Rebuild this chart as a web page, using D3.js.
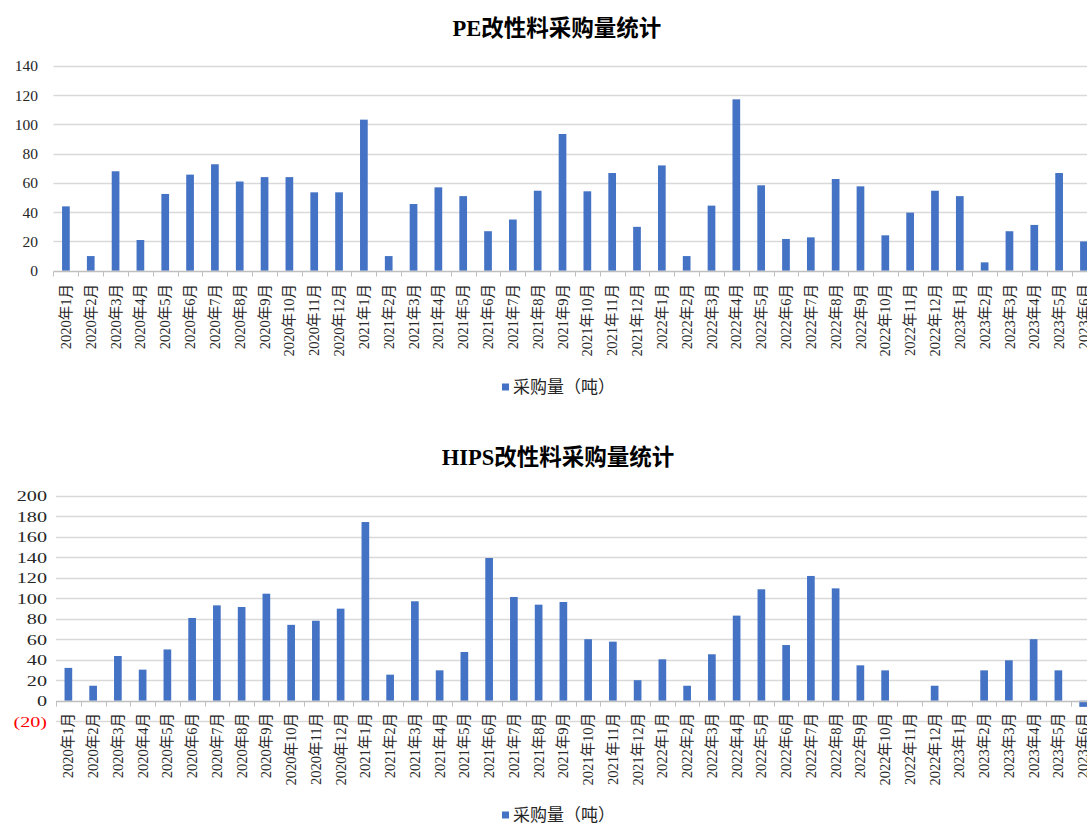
<!DOCTYPE html>
<html>
<head>
<meta charset="utf-8">
<script src="https://cdn.jsdelivr.net/npm/d3@7"></script>
<style>
  body { margin: 0; background: #fff; }
  text { font-family: "Liberation Serif", "Noto Sans CJK SC", serif; }
</style>
</head>
<body>
<script>
const w = 1087;
const h = 824;

// Data

const months = [
  "2020年1月", "2020年2月", "2020年3月", "2020年4月", "2020年5月", "2020年6月",
  "2020年7月", "2020年8月", "2020年9月", "2020年10月", "2020年11月", "2020年12月",
  "2021年1月", "2021年2月", "2021年3月", "2021年4月", "2021年5月", "2021年6月",
  "2021年7月", "2021年8月", "2021年9月", "2021年10月", "2021年11月", "2021年12月",
  "2022年1月", "2022年2月", "2022年3月", "2022年4月", "2022年5月", "2022年6月",
  "2022年7月", "2022年8月", "2022年9月", "2022年10月", "2022年11月", "2022年12月",
  "2023年1月", "2023年2月", "2023年3月", "2023年4月", "2023年5月", "2023年6月"
];

const peValues = [
  44, 10, 68, 21, 52.5, 65.7, 72.8, 61, 64, 64, 53.6, 53.6,
  103.3, 10, 45.6, 57, 51, 27, 35, 54.7, 93.5, 54.3, 66.8, 30,
  72, 10, 44.5, 117.2, 58.4, 21.7, 22.8, 62.7, 57.7, 24.2, 39.7, 54.7,
  51, 5.7, 27, 31.3, 66.8, 20
];

const hipsValues = [
  32, 14.6, 43.6, 30.3, 50, 80.7, 93, 91.4, 104.4, 74, 78, 89.8,
  174.3, 25.4, 97, 29.6, 47.5, 139.2, 101.2, 93.7, 96.3, 60, 57.6, 20,
  40.4, 14.6, 45.3, 83, 108.7, 54.3, 121.7, 109.6, 34.5, 29.6, 0, 14.6,
  0, 29.6, 39.4, 60, 29.6, -6
];

const peTicks = [0, 20, 40, 60, 80, 100, 120, 140];
const hipsTicks = [-20, 0, 20, 40, 60, 80, 100, 120, 140, 160, 180, 200];

const barColor = "#4472c4";
const gridColor = "#d9d9d9";
const axisColor = "#bfbfbf";

// SVG

const svg = d3.select("body").append("svg").attr("width", w).attr("height", h);

function drawChart(opt) {
  const g = svg.append("g");

  const x = d3
    .scaleBand()
    .domain(months)
    .range([opt.left, opt.left + months.length * opt.step])
    .paddingInner(0.69)
    .paddingOuter(0.345);

  const y = d3.scaleLinear().domain(opt.domain).range([opt.bottom, opt.top]);

  // Title

  g.append("text")
    .attr("x", opt.titleX)
    .attr("y", opt.titleY)
    .attr("text-anchor", "middle")
    .attr("font-size", 22.5)
    .attr("font-weight", "bold")
    .attr("fill", "#000")
    .text(opt.title);

  // Grid

  g.append("g")
    .selectAll("line")
    .data(opt.ticks.filter((d) => d !== 0))
    .join("line")
    .attr("x1", opt.left)
    .attr("x2", w)
    .attr("y1", (d) => Math.round(y(d)) + 0.5)
    .attr("y2", (d) => Math.round(y(d)) + 0.5)
    .attr("stroke", gridColor)
    .attr("stroke-width", 1.3);

  // Y labels

  g.append("g")
    .selectAll("text")
    .data(opt.ticks)
    .join("text")
    .attr("transform", (d) => `translate(${opt.labelX},${y(d)}) scale(${opt.labelScale},1)`)
    .attr("dy", "0.35em")
    .attr("text-anchor", "end")
    .attr("font-size", 15.5)
    .attr("fill", (d) => (d < 0 ? "#ff0000" : "#262626"))
    .text((d) => (d < 0 ? "(" + Math.abs(d) + ")" : d));

  // Bars

  g.append("g")
    .selectAll("rect")
    .data(opt.values)
    .join("rect")
    .attr("x", (d, i) => x(months[i]))
    .attr("width", x.bandwidth())
    .attr("y", (d) => y(Math.max(0, d)))
    .attr("height", (d) => Math.abs(y(d) - y(0)))
    .attr("fill", barColor);

  // Axis at zero

  const y0 = Math.round(y(0)) + 0.5;
  g.append("line")
    .attr("x1", opt.left)
    .attr("x2", w)
    .attr("y1", y0)
    .attr("y2", y0)
    .attr("stroke", axisColor)
    .attr("stroke-width", 1.3);

  g.append("g")
    .selectAll("line")
    .data(months)
    .join("line")
    .attr("x1", (d) => Math.round(x(d) - x.step() * 0.345) + 0.5)
    .attr("x2", (d) => Math.round(x(d) - x.step() * 0.345) + 0.5)
    .attr("y1", y0)
    .attr("y2", y0 + 5)
    .attr("stroke", axisColor)
    .attr("stroke-width", 1);

  // Category labels

  g.append("g")
    .selectAll("text")
    .data(months)
    .join("text")
    .attr(
      "transform",
      (d) => `translate(${x(d) + x.bandwidth() / 2},${opt.catY}) rotate(-90)`
    )
    .attr("dy", "0.35em")
    .attr("text-anchor", "end")
    .attr("font-size", 14.5)
    .attr("fill", "#262626")
    .text((d) => d);

  // Legend

  const lg = g.append("g").attr("transform", `translate(${opt.legendX},${opt.legendY})`);
  lg.append("rect")
    .attr("x", 0)
    .attr("y", -3.5)
    .attr("width", 7)
    .attr("height", 7)
    .attr("fill", barColor);
  lg.append("text")
    .attr("x", 11)
    .attr("y", 0)
    .attr("dy", "0.35em")
    .attr("font-size", 17)
    .attr("fill", "#262626")
    .text("采购量（吨）");
}

drawChart({
  title: "PE改性料采购量统计",
  titleX: 557,
  titleY: 36,
  values: peValues,
  ticks: peTicks,
  domain: [0, 140],
  top: 66,
  bottom: 270.7,
  left: 53.5,
  step: 24.83,
  labelX: 38,
  labelScale: 1,
  catY: 284,
  legendX: 502,
  legendY: 387
});

drawChart({
  title: "HIPS改性料采购量统计",
  titleX: 558,
  titleY: 465,
  values: hipsValues,
  ticks: hipsTicks,
  domain: [-20, 200],
  top: 495.7,
  bottom: 721.2,
  left: 56,
  step: 24.75,
  labelX: 47,
  labelScale: 1.3,
  catY: 713,
  legendX: 502,
  legendY: 815
});
</script>
</body>
</html>
